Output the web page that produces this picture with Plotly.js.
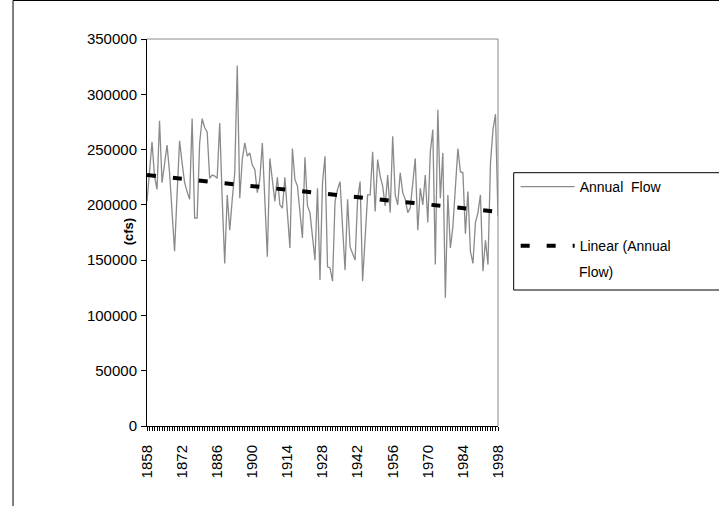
<!DOCTYPE html>
<html>
<head>
<meta charset="utf-8">
<script src="https://cdn.plot.ly/plotly-3.0.1.min.js"></script>
<style>
html,body{margin:0;padding:0;background:#fff;}
#chart{width:719px;height:506px;}
</style>
</head>
<body>
<div id="chart"></div>
<script>
// Annual flow (cfs), 1858-1998
var startYear = 1858;
var flow = [
203000,232000,257000,226000,214000,276000,220000,237000,254000,229000,
195000,158000,210000,258000,238000,220000,212000,205000,278000,188000,
188000,256000,278000,270000,266000,224000,227000,226000,224000,274000,
205000,147000,209000,177000,205000,229000,326000,206000,241000,256000,
244000,247000,236000,232000,211000,223000,256000,205000,153000,242000,
222000,203000,225000,200000,197000,225000,193000,161000,251000,223000,
217000,195000,170000,243000,199000,193000,170000,150000,215000,132000,
220000,244000,144000,143000,131000,203000,214000,221000,180000,141000,
205000,162000,156000,150000,205000,221000,131000,170000,209000,209000,
248000,194000,241000,226000,217000,199000,227000,193000,262000,209000,
200000,229000,211000,205000,193000,197000,220000,242000,177000,215000,
200000,227000,184000,248000,268000,146000,286000,206000,247000,116000,
209000,161000,180000,215000,251000,230000,229000,174000,212000,158000,
147000,184000,193000,209000,140000,168000,146000,238000,268000,282000,
190000
];
var years = flow.map(function(_, i){ return startYear + i; });
var xTickVals = [1858,1872,1886,1900,1914,1928,1942,1956,1970,1984,1998];
var seriesName = "Annual  Flow";
var trendName = "Linear (Annual";
var trendNameCont = "Flow)";
var yAxisTitle = "(cfs)";

// least-squares linear trend (as in the spreadsheet trendline)
var n = flow.length, sx=0, sy=0, sxx=0, sxy=0;
for (var i=0;i<n;i++){ sx+=years[i]; sy+=flow[i]; sxx+=years[i]*years[i]; sxy+=years[i]*flow[i]; }
var slope = (n*sxy - sx*sy)/(n*sxx - sx*sx);
var icpt = (sy - slope*sx)/n;
var trend = years.map(function(y){ return icpt + slope*y; });

var font = "Liberation Sans, Arial, sans-serif";

var traces = [
  {x: years, y: flow, type:'scatter', mode:'lines', name: seriesName,
   line:{color:'#8a8a8a', width:1.3}, legendgroup:'a'},
  {x: years, y: trend, type:'scatter', mode:'lines', name: trendName,
   line:{color:'#000', width:4, dash:'9px,17px'}, legendgroup:'b'}
];

var pw = 351.6, ph = 387, L = 146.7, T = 39;
function px(x){ return (x - L)/pw; }
function py(y){ return 1 - (y - T)/ph; }

var layout = {
  width:719, height:506,
  margin:{l:146.7, r:220.7, t:39, b:80, pad:0},
  paper_bgcolor:'#fff', plot_bgcolor:'#fff',
  font:{family:font, size:14, color:'#000'},
  showlegend:true,
  legend:{x:px(516), y:py(171), xanchor:'left', yanchor:'top',
    bgcolor:'rgba(0,0,0,0)', borderwidth:0, font:{family:font, size:14, color:'#000'},
    traceorder:'grouped', tracegroupgap:38, valign:'top', itemwidth:54},
  xaxis:{type:'linear', range:[1858,1998], tickvals:xTickVals, ticktext:xTickVals.map(String),
    tickangle:-90, ticks:'outside', ticklen:4, tickcolor:'#000', showgrid:false, zeroline:false,
    ticklabelstandoff:8,
    showline:true, linecolor:'#000', linewidth:1, tickfont:{family:font, size:15, color:'#000'},
    minor:{dtick:1, tick0:1858, ticks:'outside', ticklen:4, tickcolor:'#000', showgrid:false}},
  yaxis:{range:[0,350000], dtick:50000, tickformat:'d', ticks:'outside', ticklen:5, tickcolor:'#000',
    showgrid:false, zeroline:false, showline:true, linecolor:'#000', linewidth:1,
    ticklabelstandoff:1,
    tickfont:{family:font, size:15, color:'#000'}},
  shapes:[
    {type:'line', xref:'paper', yref:'paper', x0:0, x1:1, y0:1, y1:1, line:{color:'#8a8a8a', width:1}},
    {type:'line', xref:'paper', yref:'paper', x0:1, x1:1, y0:0, y1:1, line:{color:'#8a8a8a', width:1}},
    {type:'rect', xref:'paper', yref:'paper', x0:px(514), x1:px(740), y0:py(290), y1:py(172.7),
     line:{color:'#000', width:1}},
    {type:'line', xref:'paper', yref:'paper', x0:px(12.5), x1:px(12.5), y0:py(0.5), y1:py(520), line:{color:'#000', width:1}},
    {type:'line', xref:'paper', yref:'paper', x0:px(12.5), x1:px(740), y0:py(0.5), y1:py(0.5), line:{color:'#000', width:1}}
  ],
  annotations:[
    {text:'<b>'+yAxisTitle+'</b>', xref:'paper', yref:'paper', x:px(128), y:py(232),
     xanchor:'center', yanchor:'middle',
     textangle:-90, showarrow:false, font:{family:font, size:13, color:'#000'}},
    {text:trendNameCont, xref:'paper', yref:'paper', x:px(577), y:py(272), xanchor:'left',
     showarrow:false, font:{family:font, size:14, color:'#000'}}
  ]
};

Plotly.newPlot('chart', traces, layout, {displayModeBar:false, staticPlot:true});
</script>
</body>
</html>
